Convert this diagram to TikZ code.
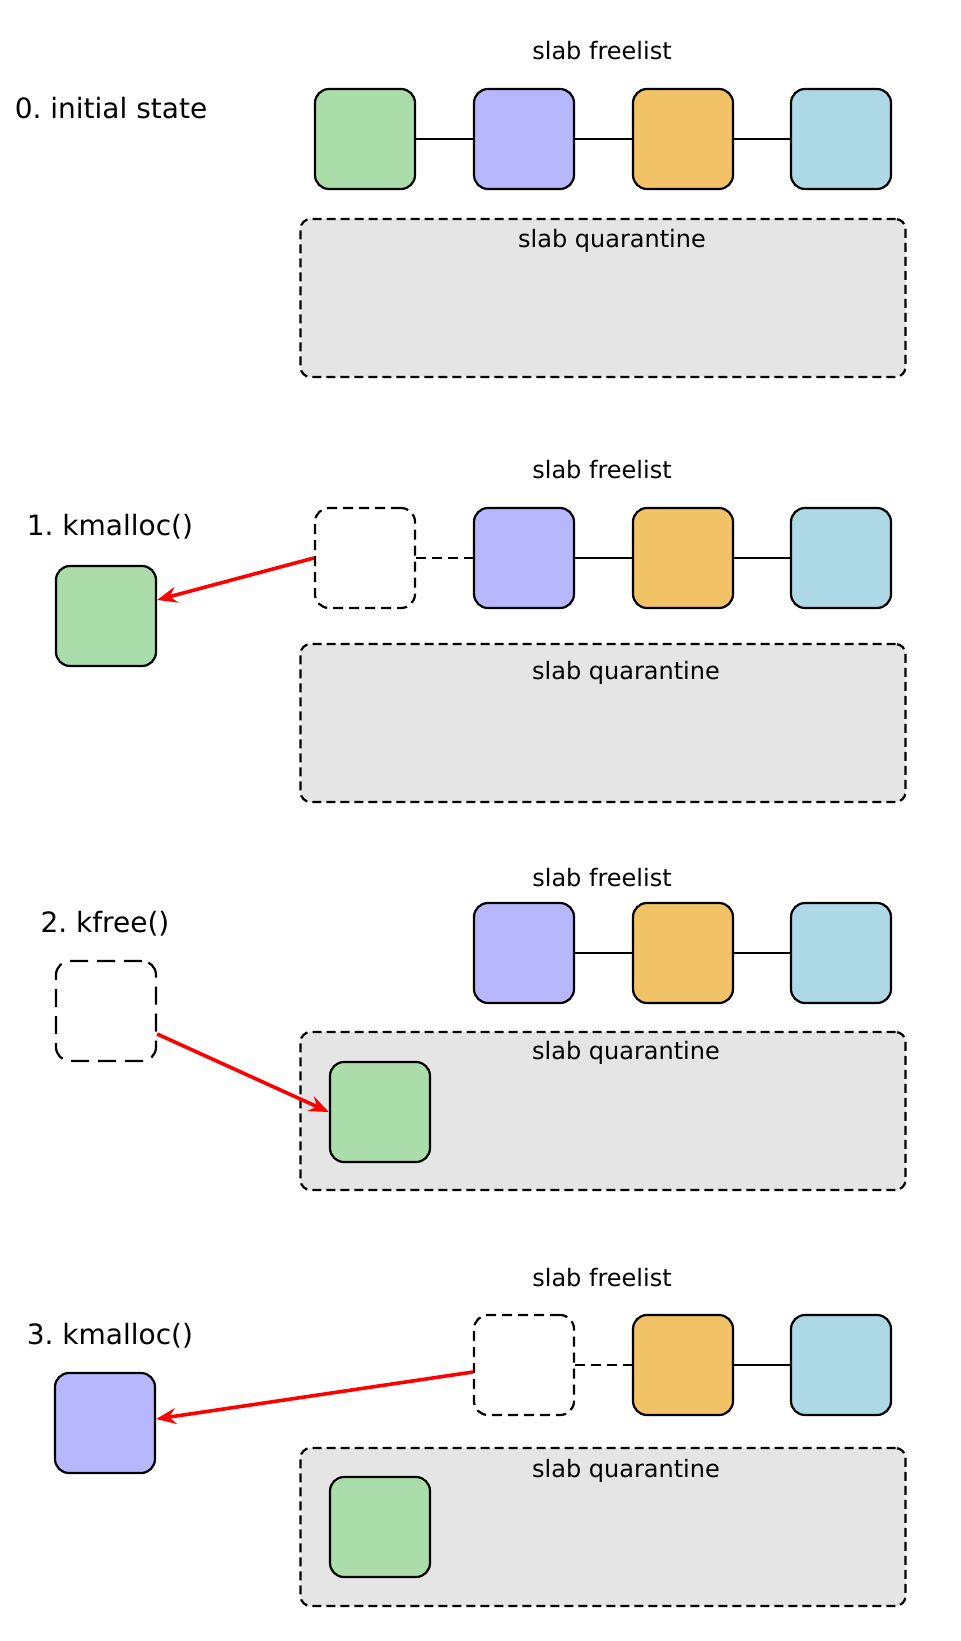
\documentclass[tikz,border=0pt]{standalone}
\usepackage{fontspec}
\setmainfont{DejaVu Sans}
\usetikzlibrary{arrows.meta}

\definecolor{verde}{HTML}{AADDAA}
\definecolor{viola}{HTML}{B7B7FF}
\definecolor{arancio}{HTML}{F2C366}
\definecolor{azzurro}{HTML}{ADD8E6}
\definecolor{grigio}{HTML}{E5E5E5}

\frenchspacing
\begin{document}
\begin{tikzpicture}[x=0.5pt, y=-0.5pt, line width=1.1pt]
	% Stili per blocchi, quarantena e frecce
	\tikzset{
		blocco/.style={rectangle, rounded corners=7pt, draw, minimum size=50pt, inner sep=0pt},
		vuoto/.style={blocco, dash pattern=on 5pt off 3pt},
		vuotolargo/.style={blocco, dash pattern=on 9pt off 4.5pt},
		quarantena/.style={rectangle, rounded corners=5pt, draw, fill=grigio, dash pattern=on 4.5pt off 2.5pt, minimum width=302.5pt, minimum height=79pt, inner sep=0pt},
		titolo/.style={font=\fontsize{14}{17}\selectfont},
		etichetta/.style={font=\fontsize{12}{14}\selectfont},
		freccia/.style={red, line width=1.8pt, -{Stealth[length=10pt, width=8pt, inset=3.5pt]}}
	}
	\fill[white] (0,0) rectangle (960,1641);
	\useasboundingbox (0,0) rectangle (960,1641);

	% 0. stato iniziale
	\node[titolo] (t0) at (111,108) {0. initial state};
	\node[etichetta] (f0) at (602,51) {slab freelist};
	\node[blocco, fill=verde] (a0) at (365,139) {};
	\node[blocco, fill=viola] (b0) at (524,139) {};
	\node[blocco, fill=arancio] (c0) at (683,139) {};
	\node[blocco, fill=azzurro] (d0) at (841,139) {};
	\draw (a0) -- (b0);
	\draw (b0) -- (c0);
	\draw (c0) -- (d0);
	\node[quarantena] (q0) at (603,298) {};
	\node[etichetta] (l0) at (612,241) {slab quarantine};

	% 1. kmalloc()
	\node[titolo] (t1) at (110,527) {1. kmalloc()};
	\node[etichetta] (f1) at (602,470) {slab freelist};
	\node[vuoto] (a1) at (365,558) {};
	\node[blocco, fill=viola] (b1) at (524,558) {};
	\node[blocco, fill=arancio] (c1) at (683,558) {};
	\node[blocco, fill=azzurro] (d1) at (841,558) {};
	\draw[dash pattern=on 5pt off 3pt] (a1) -- (b1);
	\draw (b1) -- (c1);
	\draw (c1) -- (d1);
	\node[blocco, fill=verde] (g1) at (106,616) {};
	\draw[freccia] (a1.west) -- ([yshift=8pt]g1.east);
	\node[quarantena] (q1) at (603,723) {};
	\node[etichetta] (l1) at (626,673) {slab quarantine};

	% 2. kfree()
	\node[titolo] (t2) at (105,924) {2. kfree()};
	\node[etichetta] (f2) at (602,878) {slab freelist};
	\node[blocco, fill=viola] (b2) at (524,953) {};
	\node[blocco, fill=arancio] (c2) at (683,953) {};
	\node[blocco, fill=azzurro] (d2) at (841,953) {};
	\draw (b2) -- (c2);
	\draw (c2) -- (d2);
	\node[vuotolargo] (v2) at (106,1011) {};
	\node[quarantena] (q2) at (603,1111) {};
	\node[etichetta] (l2) at (626,1053) {slab quarantine};
	\node[blocco, fill=verde] (g2) at (380,1112) {};
	\draw[freccia] ([yshift=-11.5pt]v2.east) -- (g2.west);

	% 3. kmalloc()
	\node[titolo] (t3) at (110,1336) {3. kmalloc()};
	\node[etichetta] (f3) at (602,1278) {slab freelist};
	\node[vuoto] (b3) at (524,1365) {};
	\node[blocco, fill=arancio] (c3) at (683,1365) {};
	\node[blocco, fill=azzurro] (d3) at (841,1365) {};
	\draw[dash pattern=on 5pt off 3pt] (b3) -- (c3);
	\draw (c3) -- (d3);
	\node[blocco, fill=viola] (p3) at (105,1423) {};
	\draw[freccia] ([yshift=-3.5pt]b3.west) -- ([yshift=2pt]p3.east);
	\node[quarantena] (q3) at (603,1527) {};
	\node[etichetta] (l3) at (626,1471) {slab quarantine};
	\node[blocco, fill=verde] (g3) at (380,1527) {};
\end{tikzpicture}
\end{document}
